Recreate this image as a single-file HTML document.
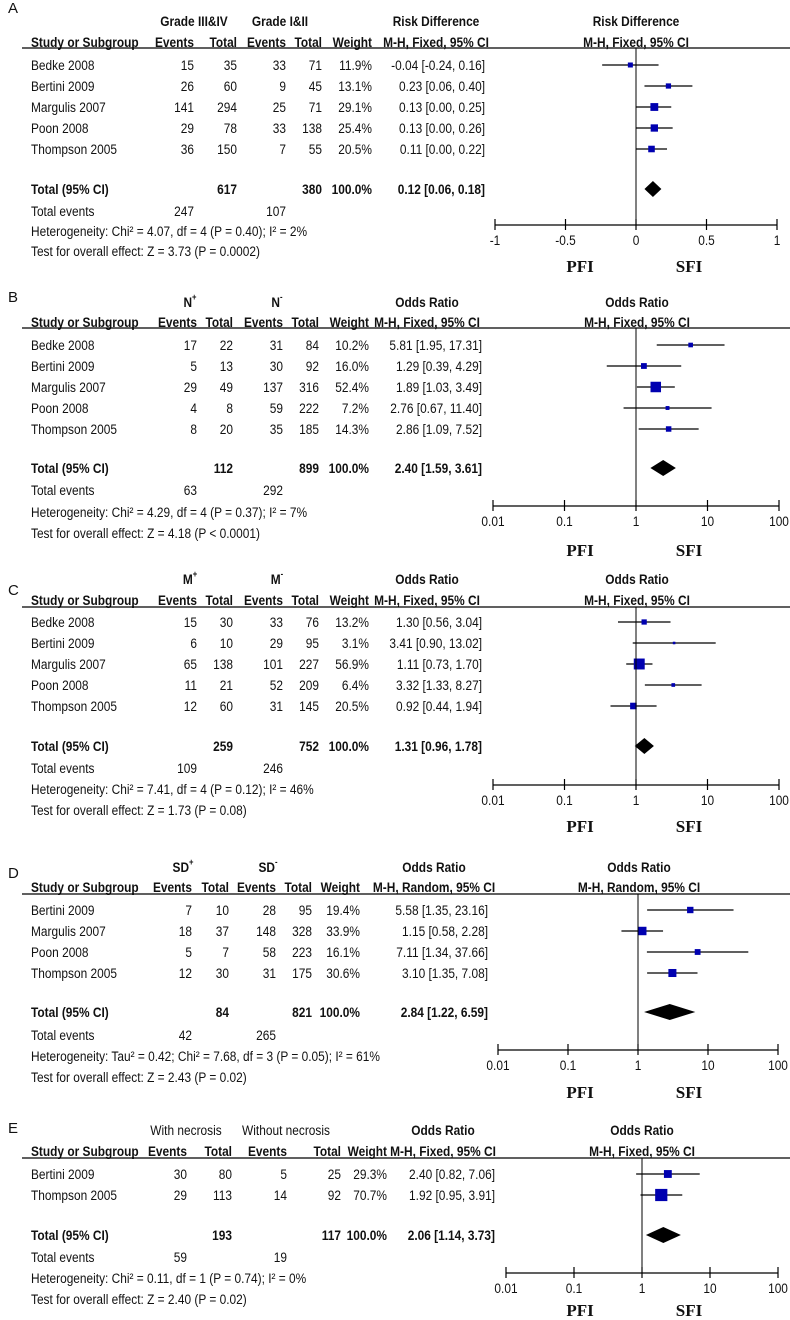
<!DOCTYPE html>
<html><head><meta charset="utf-8">
<style>
html,body{margin:0;padding:0;background:#fff;}
svg{display:block;font-family:"Liberation Sans",Arial,sans-serif;}
</style></head>
<body>
<svg id="chart" width="790" height="1320" viewBox="0 0 790 1320" xmlns="http://www.w3.org/2000/svg"></svg>
<script>
// ---------- DATA ----------
const studiesA = ["Bedke 2008","Bertini 2009","Margulis 2007","Poon 2008","Thompson 2005"];
const ev1A=[15,26,141,29,36], tot1A=[35,60,294,78,150], ev2A=[33,9,25,33,7], tot2A=[71,45,71,138,55];
const weightA=[11.9,13.1,29.1,25.4,20.5];
const estA=[-0.04,0.23,0.13,0.13,0.11], loA=[-0.24,0.06,0.00,0.00,0.00], hiA=[0.16,0.40,0.25,0.26,0.22];
const totalA=[617,380,0.12,0.06,0.18], totalEventsA=[247,107];
const ticksA=[-1,-0.5,0,0.5,1], tickLabelsA=["-1","-0.5","0","0.5","1"];

const studiesB = ["Bedke 2008","Bertini 2009","Margulis 2007","Poon 2008","Thompson 2005"];
const ev1B=[17,5,29,4,8], tot1B=[22,13,49,8,20], ev2B=[31,30,137,59,35], tot2B=[84,92,316,222,185];
const weightB=[10.2,16.0,52.4,7.2,14.3];
const estB=[5.81,1.29,1.89,2.76,2.86], loB=[1.95,0.39,1.03,0.67,1.09], hiB=[17.31,4.29,3.49,11.40,7.52];
const totalB=[112,899,2.40,1.59,3.61], totalEventsB=[63,292];

const studiesC = ["Bedke 2008","Bertini 2009","Margulis 2007","Poon 2008","Thompson 2005"];
const ev1C=[15,6,65,11,12], tot1C=[30,10,138,21,60], ev2C=[33,29,101,52,31], tot2C=[76,95,227,209,145];
const weightC=[13.2,3.1,56.9,6.4,20.5];
const estC=[1.30,3.41,1.11,3.32,0.92], loC=[0.56,0.90,0.73,1.33,0.44], hiC=[3.04,13.02,1.70,8.27,1.94];
const totalC=[259,752,1.31,0.96,1.78], totalEventsC=[109,246];

const studiesD = ["Bertini 2009","Margulis 2007","Poon 2008","Thompson 2005"];
const ev1D=[7,18,5,12], tot1D=[10,37,7,30], ev2D=[28,148,58,31], tot2D=[95,328,223,175];
const weightD=[19.4,33.9,16.1,30.6];
const estD=[5.58,1.15,7.11,3.10], loD=[1.35,0.58,1.34,1.35], hiD=[23.16,2.28,37.66,7.08];
const totalD=[84,821,2.84,1.22,6.59], totalEventsD=[42,265];

const studiesE = ["Bertini 2009","Thompson 2005"];
const ev1E=[30,29], tot1E=[80,113], ev2E=[5,14], tot2E=[25,92];
const weightE=[29.3,70.7];
const estE=[2.40,1.92], loE=[0.82,0.95], hiE=[7.06,3.91];
const totalE=[193,117,2.06,1.14,3.73], totalEventsE=[59,19];

const ticksLog=[0.01,0.1,1,10,100], tickLabelsLog=["0.01","0.1","1","10","100"];

// ---------- RENDER ----------
const NS="http://www.w3.org/2000/svg";
const svg=document.getElementById('chart');
function el(tag,attrs,parent){const e=document.createElementNS(NS,tag);for(const k in attrs)e.setAttribute(k,attrs[k]);(parent||svg).appendChild(e);return e;}
function txt(x,y,s,opt,parent){
  opt=opt||{};
  const sx=opt.sx===undefined?0.85:opt.sx;
  const t=el('text',{x:0,y:0,transform:`translate(${x} ${y}) scale(${sx} 1)`,'font-size':opt.size||14,'text-anchor':opt.anchor||'start','font-weight':opt.bold?'bold':'normal',fill:'#111'},parent);
  if(opt.family)t.setAttribute('font-family',opt.family);
  t.textContent=s;return t;}
function fmt(v){return v.toFixed(2);}
function pct(v){return v.toFixed(1)+'%';}

function panel(p){
  const g=el('g',{});
  
  
  const c=p.cols;
  const lt=txt(8,p.labelY+5,p.letter,{size:15,sx:1},g);
  
  
  const b=p.h1+5, b2=p.h2+5;
  const gh=el('g',{},g);
  
  
  p.g1(gh,b);
  txt(p.ciHead,b,p.measure,{anchor:'middle',bold:true},gh);
  txt(p.px,b,p.measure,{anchor:'middle',bold:true},gh);
  txt(31,b2,'Study or Subgroup',{bold:true},gh);
  txt(c[0],b2,'Events',{bold:true,anchor:'end'},gh);
  txt(c[1],b2,'Total',{bold:true,anchor:'end'},gh);
  txt(c[2],b2,'Events',{bold:true,anchor:'end'},gh);
  txt(c[3],b2,'Total',{bold:true,anchor:'end'},gh);
  txt(c[4],b2,'Weight',{bold:true,anchor:'end'},gh);
  txt(p.ciHead,b2,p.method,{bold:true,anchor:'middle'},gh);
  txt(p.px,b2,p.method,{bold:true,anchor:'middle'},gh);
  el('line',{x1:22,x2:790,y1:p.line,y2:p.line,stroke:'#000','stroke-width':1.3},g);
  const X=p.scale;
  p.studies.forEach((s,i)=>{
    const y=p.rows[i];
    const r=el('g',{},g);
    
    
    txt(31,y+5,s,{},r);
    txt(c[0],y+5,String(p.ev1[i]),{anchor:'end'},r);
    txt(c[1],y+5,String(p.tot1[i]),{anchor:'end'},r);
    txt(c[2],y+5,String(p.ev2[i]),{anchor:'end'},r);
    txt(c[3],y+5,String(p.tot2[i]),{anchor:'end'},r);
    txt(c[4],y+5,pct(p.weight[i]),{anchor:'end'},r);
    txt(c[5],y+5,fmt(p.est[i])+' ['+fmt(p.lo[i])+', '+fmt(p.hi[i])+']',{anchor:'end'},r);
    const ci=el('line',{x1:X(p.lo[i]),x2:X(p.hi[i]),y1:y,y2:y,stroke:'#000','stroke-width':1.2},r);
    
    
    const sz=1.45*Math.sqrt(p.weight[i]);
    const sq=el('rect',{x:X(p.est[i])-sz/2,y:y-sz/2,width:sz,height:sz,fill:'#0000b0'},r);
    
    
  });
  const t=p.total, ty=p.tot;
  txt(31,ty+5,'Total (95% CI)',{bold:true},g);
  txt(c[1],ty+5,String(t[0]),{bold:true,anchor:'end'},g);
  txt(c[3],ty+5,String(t[1]),{bold:true,anchor:'end'},g);
  txt(c[4],ty+5,'100.0%',{bold:true,anchor:'end'},g);
  txt(c[5],ty+5,fmt(t[2])+' ['+fmt(t[3])+', '+fmt(t[4])+']',{bold:true,anchor:'end'},g);
  const dm=el('polygon',{points:`${X(t[3])},${ty} ${X(t[2])},${ty-8} ${X(t[4])},${ty} ${X(t[2])},${ty+8}`,fill:'#000'},g);
  
  
  txt(31,p.evY+5,'Total events',{},g);
  txt(c[0],p.evY+5,String(p.tev[0]),{anchor:'end'},g);
  txt(c[2],p.evY+5,String(p.tev[1]),{anchor:'end'},g);
  const ht=txt(31,p.hetY+5,p.het,{},g);
  
  
  const tt=txt(31,p.testY+5,p.test,{},g);
  
  
  const ax=el('g',{},g);
  
  
  el('line',{x1:X(p.null),x2:X(p.null),y1:p.line,y2:p.axisY,stroke:'#000','stroke-width':1},g);
  el('line',{x1:X(p.ticks[0]),x2:X(p.ticks[p.ticks.length-1]),y1:p.axisY,y2:p.axisY,stroke:'#000','stroke-width':1.3},ax);
  p.ticks.forEach((v,i)=>{
    el('line',{x1:X(v),x2:X(v),y1:p.axisY-6,y2:p.axisY+5,stroke:'#000','stroke-width':1.2},ax);
    txt(X(v),p.axisY+20,p.tickLabels[i],{anchor:'middle',size:14},ax);
  });
  const pf=txt(580,p.pfiY+6,'PFI',{anchor:'middle',bold:true,size:17,sx:1,family:'"Liberation Serif",serif'},g);
  
  
  const sf=txt(689,p.pfiY+6,'SFI',{anchor:'middle',bold:true,size:17,sx:1,family:'"Liberation Serif",serif'},g);
  
  
}
function linScale(x0,x1,v0,v1){return v=>x0+(v-v0)/(v1-v0)*(x1-x0);}
function logScale(x0,x1){return v=>x0+(Math.log10(v)+2)/4*(x1-x0);}
function supHead(gh,b,base,cx1,cx2){
  [[cx1,'+'],[cx2,'-']].forEach(([cx,s])=>{
    const t=txt(cx,b,base,{bold:true,anchor:'middle'},gh);
    const ts=document.createElementNS(NS,'tspan');ts.setAttribute('dy','-7');ts.setAttribute('font-size','9');ts.textContent=s;t.appendChild(ts);
  });
}
const rowsOf=(s,n)=>Array.from({length:n},(_,i)=>s+i*21);

panel({letter:'A',labelY:8,h1:21,h2:42,line:48,rows:rowsOf(65,5),tot:189,evY:211,hetY:231,testY:251,
  axisY:225,pfiY:266,cols:[194,237,286,322,372,485],ciHead:436,px:636,measure:'Risk Difference',method:'M-H, Fixed, 95% CI',
  g1:(gh,b)=>{txt(194,b,'Grade III&IV',{bold:true,anchor:'middle'},gh);txt(280,b,'Grade I&II',{bold:true,anchor:'middle'},gh);},
  studies:studiesA,ev1:ev1A,tot1:tot1A,ev2:ev2A,tot2:tot2A,weight:weightA,est:estA,lo:loA,hi:hiA,total:totalA,tev:totalEventsA,
  het:'Heterogeneity: Chi² = 4.07, df = 4 (P = 0.40); I² = 2%',test:'Test for overall effect: Z = 3.73 (P = 0.0002)',
  scale:linScale(495,777,-1,1),null:0,ticks:ticksA,tickLabels:tickLabelsA});

panel({letter:'B',labelY:297,h1:302,h2:322,line:328,rows:rowsOf(345,5),tot:468,evY:490,hetY:512,testY:533,
  axisY:506,pfiY:550,cols:[197,233,283,319,369,482],ciHead:427,px:637,measure:'Odds Ratio',method:'M-H, Fixed, 95% CI',
  g1:(gh,b)=>supHead(gh,b,'N',190,277),
  studies:studiesB,ev1:ev1B,tot1:tot1B,ev2:ev2B,tot2:tot2B,weight:weightB,est:estB,lo:loB,hi:hiB,total:totalB,tev:totalEventsB,
  het:'Heterogeneity: Chi² = 4.29, df = 4 (P = 0.37); I² = 7%',test:'Test for overall effect: Z = 4.18 (P < 0.0001)',
  scale:logScale(493,779),null:1,ticks:ticksLog,tickLabels:tickLabelsLog});

panel({letter:'C',labelY:590,h1:579,h2:600,line:607,rows:rowsOf(622,5),tot:746,evY:768,hetY:789,testY:810,
  axisY:785,pfiY:826,cols:[197,233,283,319,369,482],ciHead:427,px:637,measure:'Odds Ratio',method:'M-H, Fixed, 95% CI',
  g1:(gh,b)=>supHead(gh,b,'M',190,277),
  studies:studiesC,ev1:ev1C,tot1:tot1C,ev2:ev2C,tot2:tot2C,weight:weightC,est:estC,lo:loC,hi:hiC,total:totalC,tev:totalEventsC,
  het:'Heterogeneity: Chi² = 7.41, df = 4 (P = 0.12); I² = 46%',test:'Test for overall effect: Z = 1.73 (P = 0.08)',
  scale:logScale(493,779),null:1,ticks:ticksLog,tickLabels:tickLabelsLog});

panel({letter:'D',labelY:873,h1:867,h2:887,line:894,rows:rowsOf(910,4),tot:1012,evY:1035,hetY:1056,testY:1077,
  axisY:1050,pfiY:1092,cols:[192,229,276,312,360,488],ciHead:434,px:639,measure:'Odds Ratio',method:'M-H, Random, 95% CI',
  g1:(gh,b)=>supHead(gh,b,'SD',183,268),
  studies:studiesD,ev1:ev1D,tot1:tot1D,ev2:ev2D,tot2:tot2D,weight:weightD,est:estD,lo:loD,hi:hiD,total:totalD,tev:totalEventsD,
  het:'Heterogeneity: Tau² = 0.42; Chi² = 7.68, df = 3 (P = 0.05); I² = 61%',test:'Test for overall effect: Z = 2.43 (P = 0.02)',
  scale:logScale(498,778),null:1,ticks:ticksLog,tickLabels:tickLabelsLog});

panel({letter:'E',labelY:1128,h1:1130,h2:1151,line:1158,rows:rowsOf(1174,2),tot:1235,evY:1257,hetY:1278,testY:1299,
  axisY:1273,pfiY:1310,cols:[187,232,287,341,387,495],ciHead:443,px:642,measure:'Odds Ratio',method:'M-H, Fixed, 95% CI',
  g1:(gh,b)=>{txt(186,b,'With necrosis',{anchor:'middle'},gh);txt(286,b,'Without necrosis',{anchor:'middle'},gh);},
  studies:studiesE,ev1:ev1E,tot1:tot1E,ev2:ev2E,tot2:tot2E,weight:weightE,est:estE,lo:loE,hi:hiE,total:totalE,tev:totalEventsE,
  het:'Heterogeneity: Chi² = 0.11, df = 1 (P = 0.74); I² = 0%',test:'Test for overall effect: Z = 2.40 (P = 0.02)',
  scale:logScale(506,778),null:1,ticks:ticksLog,tickLabels:tickLabelsLog});
</script>
</body></html>
